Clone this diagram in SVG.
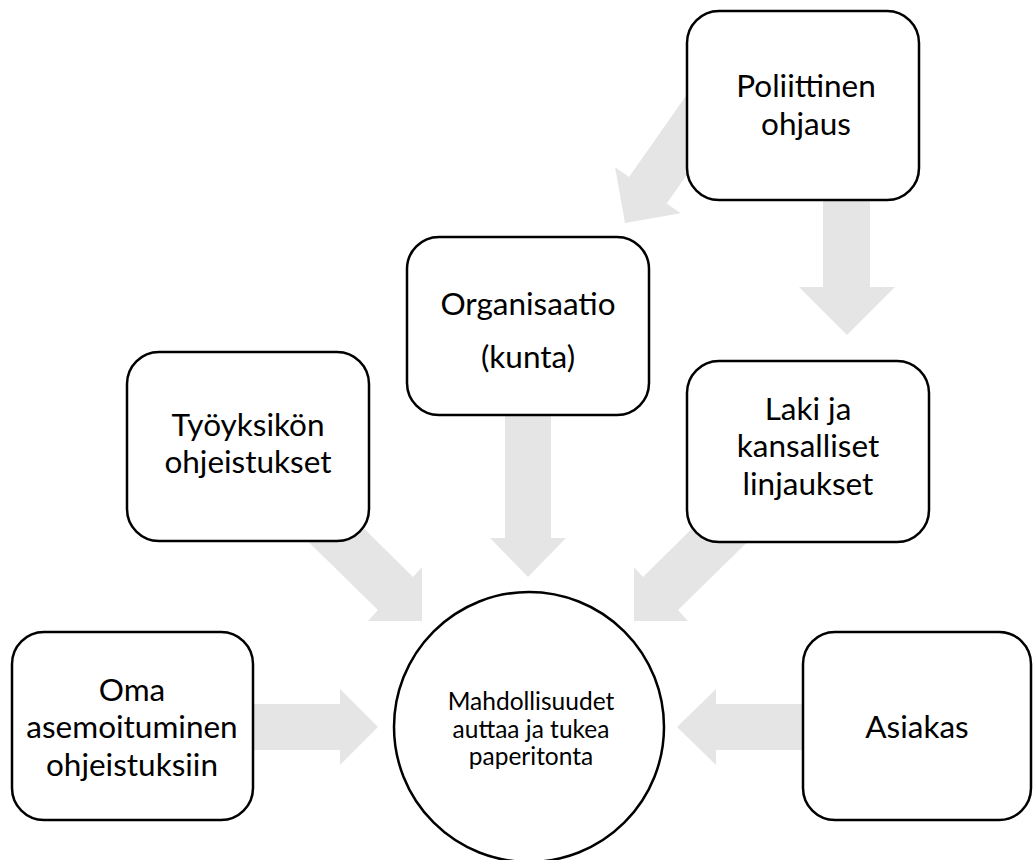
<svg xmlns="http://www.w3.org/2000/svg" width="1036" height="860" viewBox="0 0 1036 860">
<style>
.arrow{fill:#e5e5e5;stroke:none}
.box{fill:#ffffff;stroke:#000000;stroke-width:2.5}
.t{font-family:Lato,"Liberation Sans",sans-serif;font-size:31.5px;fill:#000000;text-anchor:middle}
.s{font-family:Lato,"Liberation Sans",sans-serif;font-size:24.5px;fill:#000000;text-anchor:middle}
</style>
<rect width="1036" height="860" fill="#ffffff"/>
<g id="connectors">
<polygon class="arrow" points="703.7,70.5 741.3,96.9 666.7,203.4 680.7,213.2 625,223 615.1,167.2 629.1,177"/>
<polygon class="arrow" points="823,150 870,150 870,287 895,287 847,335 799,287 823,287"/>
<polygon class="arrow" points="505,400 551,400 551,538 566,538 528,577 490,538 505,538"/>
<polygon class="arrow" points="283,517 317.5,482.5 413,577 422,567 422,621 368,621 378,610"/>
<polygon class="arrow" points="773,517 738.5,482.5 643,577 634,567 634,621 688,621 678,610"/>
<polygon class="arrow" points="240,704 340,704 340,689 378,727 340,765 340,750 240,750"/>
<polygon class="arrow" points="820,704 716,704 716,689 677,727 716,765 716,750 820,750"/>
</g>
<g id="n-poliittinen">
<rect class="box" x="687" y="11" width="232" height="189" rx="32"/>
<text class="t" x="806" y="97">Poliittinen</text>
<text class="t" x="806" y="135">ohjaus</text>
</g>
<g id="n-organisaatio">
<rect class="box" x="407" y="237" width="242" height="178" rx="32"/>
<text class="t" x="528" y="315">Organisaatio</text>
<text class="t" x="528" y="368">(kunta)</text>
</g>
<g id="n-tyoyksikon">
<rect class="box" x="127" y="352" width="242" height="189" rx="32"/>
<text class="t" x="248" y="436">Työyksikön</text>
<text class="t" x="248" y="473">ohjeistukset</text>
</g>
<g id="n-laki">
<rect class="box" x="687" y="361" width="242" height="181" rx="32"/>
<text class="t" x="808" y="420">Laki ja</text>
<text class="t" x="808" y="457">kansalliset</text>
<text class="t" x="808" y="495">linjaukset</text>
</g>
<g id="n-oma">
<rect class="box" x="12" y="632" width="241" height="188" rx="32"/>
<text class="t" x="132" y="701">Oma</text>
<text class="t" x="132" y="738">asemoituminen</text>
<text class="t" x="132" y="776">ohjeistuksiin</text>
</g>
<g id="n-asiakas">
<rect class="box" x="803" y="632" width="228" height="188" rx="32"/>
<text class="t" x="917" y="738">Asiakas</text>
</g>
<g id="n-mahdollisuudet">
<circle class="box" cx="529" cy="727" r="135"/>
<text class="s" x="531" y="710">Mahdollisuudet</text>
<text class="s" x="531" y="738">auttaa ja tukea</text>
<text class="s" x="531" y="765">paperitonta</text>
</g>
</svg>
